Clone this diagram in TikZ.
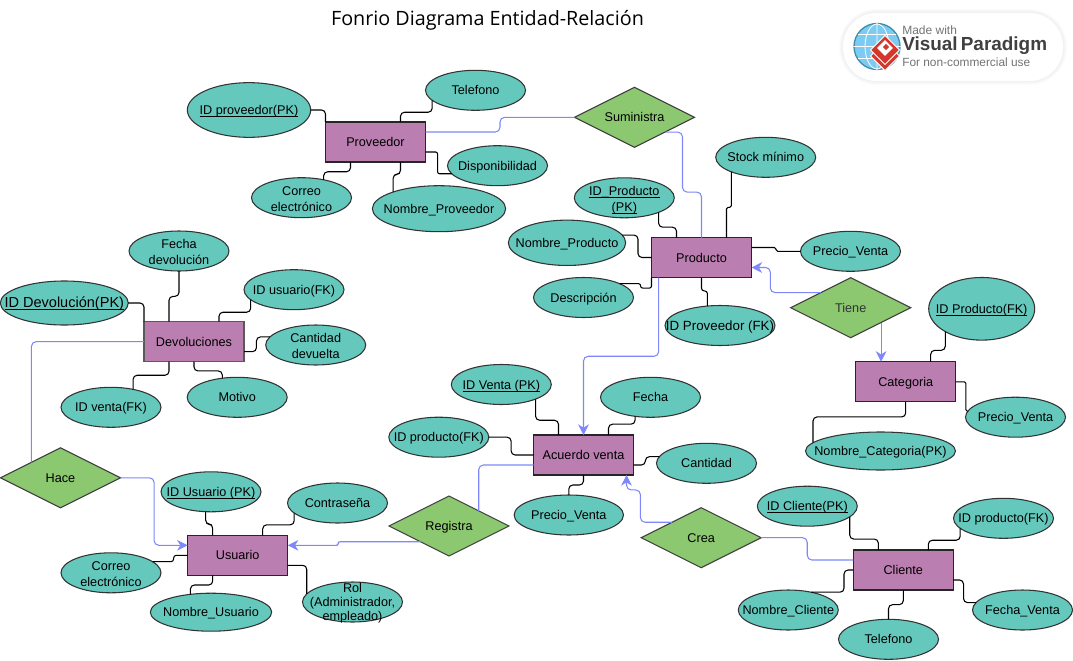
\documentclass[tikz,border=0pt]{standalone}
\usepackage{fontspec}
\setmainfont{Liberation Sans}
\newfontfamily\titlefont{Open Sans}
\usepackage{xcolor}
\usetikzlibrary{shapes,arrows.meta,calc}

\definecolor{entityfill}{HTML}{BB7EB0}
\definecolor{attrfill}{HTML}{65C8BD}
\definecolor{relfill}{HTML}{8BC86F}
\definecolor{relblue}{HTML}{7E88FA}
\definecolor{globeblue}{HTML}{7CCBF2}
\definecolor{globeedge}{HTML}{3F8EAE}
\definecolor{logored}{HTML}{D4382C}

\newcommand{\keytext}[1]{\vphantom{(}\underline{\smash{#1}}}

\tikzset{
    entity/.style={draw=black!85, fill=entityfill, line width=.8pt, minimum width=75pt,
        minimum height=30pt, inner sep=0pt, outer sep=0pt, text height=7pt, text depth=0pt,
        font=\fontsize{9.5}{12}\selectfont},
    attr/.style={draw=black!80, fill=attrfill, ellipse, line width=.8pt, minimum width=75pt,
        minimum height=30pt, inner xsep=-25pt, inner ysep=-10pt, outer sep=0pt, align=center,
        text height=7pt, text depth=0pt, font=\fontsize{9.5}{12}\selectfont},
    twolines/.style={text height=20.4pt, text depth=0pt},
    threelines/.style={text height=27.6pt, text depth=0pt, font=\fontsize{9.5}{10.5}\selectfont},
    rel/.style={draw=black!75, fill=relfill, diamond, aspect=2, line width=.8pt, minimum width=90pt,
        minimum height=45pt, inner sep=0pt, outer sep=0pt, text height=7pt, text depth=0pt,
        font=\fontsize{9.5}{12}\selectfont},
    attrline/.style={color=black, line width=.8pt, rounded corners=3pt},
    relline/.style={color=relblue, line width=.8pt, rounded corners=3.5pt},
    relarrow/.style={relline, -{Stealth[length=8pt,width=8pt,inset=2.5pt]}},
    vhv/.style={to path={let \p1=($(\tikztostart)!#1!(\tikztotarget)$), \p2=(\tikztostart), \p3=(\tikztotarget)
        in -- (\x2,\y1) -- (\x3,\y1) -- (\p3) \tikztonodes}},
    vhv/.default=.5,
    hvh/.style={to path={let \p1=($(\tikztostart)!#1!(\tikztotarget)$), \p2=(\tikztostart), \p3=(\tikztotarget)
        in -- (\x1,\y2) -- (\x1,\y3) -- (\p3) \tikztonodes}},
    hvh/.default=.5,
}

\begin{document}
\begin{tikzpicture}[x=.75pt,y=-.75pt]
\useasboundingbox (0,0) rectangle (1073,660);

\path (487.5,20.5) node (title) [inner sep=0pt, font=\titlefont\fontsize{14.8}{16}\selectfont]
    {Fonrio Diagrama Entidad-Relación};

\foreach \blur in {1,...,5}
    \draw[black, draw opacity=.012, line width=\blur*1.2pt, rounded corners=25pt] (843,13) rectangle (1063,81);
\fill[white, rounded corners=25pt] (843,13) rectangle (1063,81);
\path (877,46.5) node (globe) [circle, draw=globeedge, fill=globeblue, line width=1pt, minimum size=34.5pt] {};
\draw[white, line width=.6pt] (globe.north) -- (globe.south) (globe.west) -- (globe.east)
    (877,46.5) ellipse (12 and 22.5) (858,34.5) -- (896,34.5) (858,58.5) -- (896,58.5);
\path (885,56) node (logoback) [diamond, draw=white, fill=logored, line width=.6pt, aspect=1,
    minimum size=22pt, inner sep=0pt] {};
\path (885,50) node (logotop) [diamond, draw=white, fill=logored, line width=.6pt, aspect=1,
    minimum size=22pt, inner sep=0pt] {};
\path (885,48) node (logoinner) [diamond, fill=white, aspect=1, minimum size=12pt, inner sep=0pt] {};
\path (886,47) node (logohole) [diamond, fill=logored, aspect=1, minimum size=5pt, inner sep=0pt] {};
\path (902,30) node (logomade) [anchor=west, inner sep=0pt, text=black!55, font=\fontsize{9}{11}\selectfont] {Made with};
\path (902,46) node (logoname) [anchor=west, inner sep=0pt, text=black!75, font=\bfseries\fontsize{14.2}{16}\selectfont] {Visual\,Paradigm};
\path (902,62.7) node (logofoot) [anchor=west, inner sep=0pt, text=black!55, font=\fontsize{8.9}{10}\selectfont] {For non-commercial use};

\path (375.5,142) node (Proveedor) [entity] {Proveedor};
\path (701.5,257.5) node (Producto) [entity] {Producto};
\path (905.7,381.8) node (Categoria) [entity] {Categoria};
\path (194,341.7) node (Devoluciones) [entity, draw=black!65, line width=1.1pt] {Devoluciones};
\path (237.7,555.3) node (Usuario) [entity] {Usuario};
\path (583.5,455) node (AcuerdoVenta) [entity] {Acuerdo venta};
\path (903.3,570) node (Cliente) [entity] {Cliente};

\path (634.5,117.3) node (Suministra) [rel] {Suministra};
\path (850.7,307.7) node (Tiene) [rel, text=black!80] {Tiene};
\path (60.5,477.8) node (Hace) [rel] {Hace};
\path (449,526) node (Registra) [rel] {Registra};
\path (701.2,537.7) node (Crea) [rel] {Crea};

\path (Proveedor)+(-126.5,-32) node (idProveedor) [attr, minimum width=92.5pt, minimum height=41pt] {\keytext{ID proveedor(PK)}};
\path (Proveedor)+(100,-51.7) node (telProveedor) [attr] {Telefono};
\path (Proveedor)+(122,23.7) node (dispProveedor) [attr] {Disponibilidad};
\path (Proveedor)+(-74,55.7) node (correoProveedor) [attr, twolines] {Correo\\electrónico};
\path (Proveedor)+(63.5,66.7) node (nombreProveedor) [attr, minimum width=100pt, minimum height=34.5pt] {Nombre\_Proveedor};

\path (Producto)+(64.2,-100.2) node (stockProducto) [attr] {Stock mínimo};
\path (Producto)+(-77.2,-59.7) node (idProducto) [attr, twolines] {\keytext{ID\_Producto}\\\keytext{(PK)}};
\path (Producto)+(-134.5,-14.7) node (nombreProducto) [attr, minimum width=88pt, minimum height=34pt] {Nombre\_Producto};
\path (Producto)+(-118,40) node (descProducto) [attr] {Descripción};
\path (Producto)+(149,-6.2) node (precioProducto) [attr] {Precio\_Venta};
\path (Producto)+(18.5,68) node (provProducto) [attr, minimum width=82.5pt, font=\fontsize{10}{12}\selectfont] {ID Proveedor (FK)};

\path (Categoria)+(76,-73) node (idCategoria) [attr, minimum width=79.5pt, minimum height=47pt] {\keytext{ID Producto(FK)}};
\path (Categoria)+(109.8,35.4) node (precioCategoria) [attr] {Precio\_Venta};
\path (Categoria)+(-25.2,69.2) node (nombreCategoria) [attr, minimum width=112.5pt, minimum height=28.5pt] {Nombre\_Categoria(PK)};

\path (Devoluciones)+(-15,-90.7) node (fechaDevolucion) [attr, twolines] {Fecha\\devolución};
\path (Devoluciones)+(-129.7,-38.7) node (idDevolucion) [attr, minimum width=96pt, minimum height=33pt, font=\fontsize{10.9}{12}\selectfont] {\keytext{ID Devolución(PK)}};
\path (Devoluciones)+(100,-52) node (usuarioDevolucion) [attr] {ID usuario(FK)};
\path (Devoluciones)+(121.7,3.3) node (cantDevolucion) [attr, twolines] {Cantidad\\devuelta};
\path (Devoluciones)+(-83,65.6) node (ventaDevolucion) [attr] {ID venta(FK)};
\path (Devoluciones)+(43.2,55.6) node (motivoDevolucion) [attr] {Motivo};

\path (Usuario)+(-26.7,-63.5) node (idUsuario) [attr] {\keytext{ID Usuario (PK)}};
\path (Usuario)+(99.8,-52.3) node (passUsuario) [attr] {Contraseña};
\path (Usuario)+(-126.7,17.5) node (correoUsuario) [attr, twolines] {Correo\\electrónico};
\path (Usuario)+(-26.7,56.9) node (nombreUsuario) [attr, minimum width=91pt, minimum height=28.5pt] {Nombre\_Usuario};
\path (Usuario)+(114.8,46.7) node (rolUsuario) [attr, threelines] {Rol\\(Administrador,\\empleado)};

\path (AcuerdoVenta)+(-82.2,-70.5) node (idVenta) [attr] {\keytext{ID Venta (PK)}};
\path (AcuerdoVenta)+(67,-57.7) node (fechaVenta) [attr] {Fecha};
\path (AcuerdoVenta)+(-144.7,-17.8) node (productoVenta) [attr] {ID producto(FK)};
\path (AcuerdoVenta)+(123,8.3) node (cantVenta) [attr] {Cantidad};
\path (AcuerdoVenta)+(-14.7,60) node (precioVenta) [attr, minimum width=82pt] {Precio\_Venta};

\path (Cliente)+(-96,-63.8) node (idCliente) [attr] {\keytext{ID Cliente(PK)}};
\path (Cliente)+(100.2,-51.7) node (productoCliente) [attr] {ID producto(FK)};
\path (Cliente)+(-115,40) node (nombreCliente) [attr] {Nombre\_Cliente};
\path (Cliente)+(-14.8,69.3) node (telCliente) [attr] {Telefono};
\path (Cliente)+(119.2,40) node (fechaCliente) [attr] {Fecha\_Venta};

\draw[attrline] (idProveedor.east) -| (Proveedor.north west);
\path[attrline] (Proveedor.north)+(25,0) edge[vhv=.45] (telProveedor.193);
\path[attrline] (Proveedor.south)+(-25,0) edge[vhv=.55] (correoProveedor.39);
\path[attrline] (Proveedor.south)+(25,0) edge[vhv=.41] (nombreProveedor.160);
\path[attrline, rounded corners=1.5pt] (Proveedor.east)+(0,10) edge[hvh=.46] (dispProveedor.190);

\path[attrline, rounded corners=1.2pt] (Producto.north)+(25,0) edge[vhv=.46] (stockProducto.203);
\path[attrline] (Producto.north)+(-25,0) edge[vhv=.41] (idProducto.337);
\path[attrline] (Producto.west) edge[hvh=.46] (nombreProducto.8);
\draw[attrline, rounded corners=1.5pt] (descProducto.21) -- ++(21,0) -- ++(0,4.4) -| (Producto.south west);
\path[attrline, rounded corners=2pt] (Producto.south) edge[vhv=.47] (provProducto.123);
\path[attrline, rounded corners=1.2pt] (Producto.east)+(0,-10) edge[hvh] (precioProducto.west);

\path[attrline] (Categoria.north)+(25,0) edge[vhv=.38] (idCategoria.212);
\path[attrline, rounded corners=1.2pt] (Categoria.east) edge[hvh=.85] (precioCategoria.173);
\path[attrline] (Categoria.south) edge[vhv=.37] (nombreCategoria.173);

\path[attrline] (Devoluciones.north)+(-25,0) edge[vhv] (fechaDevolucion.south);
\draw[attrline] (idDevolucion.east) -| (Devoluciones.north west);
\path[attrline] (Devoluciones.north)+(25,0) edge[vhv=.43] (usuarioDevolucion.193);
\path[attrline] (Devoluciones.east)+(0,10) edge[hvh=.48] (cantDevolucion.170);
\path[attrline] (Devoluciones.south) edge[vhv=.56] (motivoDevolucion.128);
\path[attrline] (Devoluciones.south)+(-25,0) edge[vhv=.49] (ventaDevolucion.39);

\path[attrline] (Usuario.north)+(-25,0) edge[vhv=.47] (idUsuario.255);
\path[attrline] (Usuario.north)+(25,0) edge[vhv=.47] (passUsuario.193);
\path[attrline, rounded corners=2pt] (Usuario.west) edge[hvh=.4] (correoUsuario.15);
\path[attrline] (Usuario.south)+(-25,0) edge[vhv=.51] (nombreUsuario.139);
\draw[attrline] ($(Usuario.east)+(0,10)$) -| (rolUsuario.170);

\path[attrline] (AcuerdoVenta.north)+(-25,0) edge[vhv=.41] (idVenta.337);
\path[attrline] (AcuerdoVenta.north)+(25,0) edge[vhv=.58] (fechaVenta.231);
\path[attrline] (AcuerdoVenta.west) edge[hvh] (productoVenta.east);
\path[attrline] (AcuerdoVenta.east)+(0,10) edge[hvh=.46] (cantVenta.172);
\path[attrline] (AcuerdoVenta.south) edge[vhv] (precioVenta.north);

\path[attrline] (Cliente.north)+(-25,0) edge[vhv=.33] (idCliente.346);
\path[attrline] (Cliente.north)+(25,0) edge[vhv=.45] (productoCliente.193);
\path[attrline] (Cliente.west) edge[hvh=.22] (nombreCliente.38);
\path[attrline] (Cliente.south) edge[vhv] (telCliente.north);
\path[attrline] (Cliente.east)+(0,10) edge[hvh=.45] (fechaCliente.171);

\path[relline] (Proveedor.east)+(0,-10) edge[hvh] (Suministra.west);
\draw[relline] (Suministra.334) -- ++(17.6,0) -- ++(0,60) -| (Producto.north);
\draw[relarrow] (Tiene.153) -- ++(-50.7,0) |- ($(Producto.east)+(0,10)$);
\draw[relarrow] (Tiene.334) -- (Tiene.334 |- Categoria.north);
\path[relarrow] (Producto.south)+(-42.8,0) edge[vhv] (AcuerdoVenta.north);
\draw[relline] (Devoluciones.west) -| (Hace.152);
\path[relarrow] (Hace.east) edge[hvh] ($(Usuario.west)+(0,-10)$);
\path[relarrow, rounded corners=1.5pt] (Registra.209) edge[hvh=.62] ($(Usuario.east)+(0,-10)$);
\draw[relline] (Registra.27) |- ($(AcuerdoVenta.west)+(0,10)$);
\draw[relarrow] (Crea.152) -- ++(-31.7,0) -- ++(0,-32.3) -| ($(AcuerdoVenta.south)+(43,0)$);
\path[relline] (Crea.east) edge[hvh] ($(Cliente.west)+(0,-10)$);

\end{tikzpicture}
\end{document}
